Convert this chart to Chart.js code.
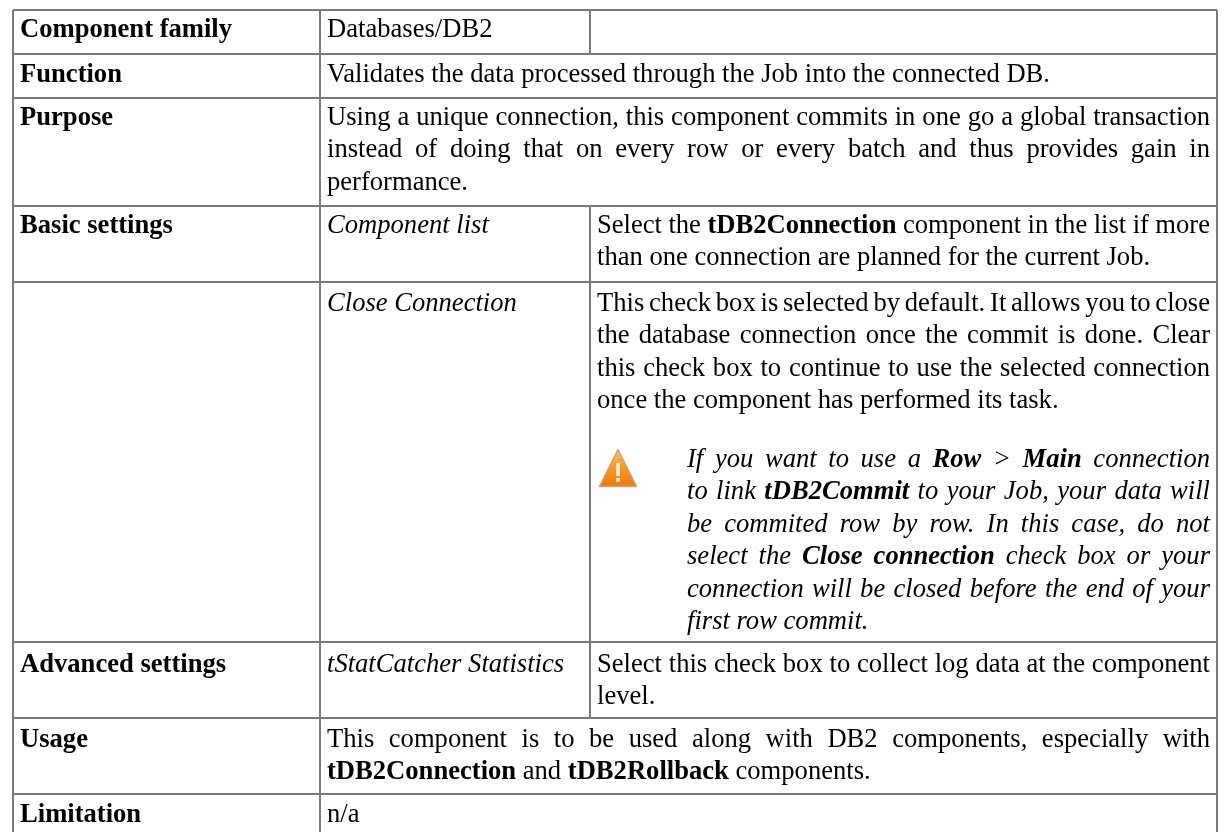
<!DOCTYPE html>
<html>
<head>
<meta charset="utf-8">
<title>tDB2Commit</title>
<script src="https://cdn.jsdelivr.net/npm/chart.js@4"></script>
<style>
html, body { margin: 0; padding: 0; background: #fff; }
canvas { display: block; }
</style>
</head>
<body>
<canvas id="sheet" width="1226" height="832"></canvas>
<script>
// table rules
const rowEdges = [10, 54, 98, 206, 282, 642, 718, 794, 832];
const colEdges = [13, 320, 590, 1217];
// first baseline below the top rule of each row
const rowBaselines = [27, 28, 27, 27, 29, 30, 29, 28];

// text of each cell: row, first column, lines (** = bold, trailing | = justified)
const headerCells = [
    [0, 0, ['Component family']],
    [1, 0, ['Function']],
    [2, 0, ['Purpose']],
    [3, 0, ['Basic settings']],
    [5, 0, ['Advanced settings']],
    [6, 0, ['Usage']],
    [7, 0, ['Limitation']]
];
const plainCells = [
    [0, 1, ['Databases/DB2']],
    [1, 1, ['Validates the data processed through the Job into the connected DB.']],
    [2, 1, ['Using a unique connection, this component commits in one go a global transaction|',
            'instead of doing that on every row or every batch and thus provides gain in|',
            'performance.']],
    [6, 1, ['This component is to be used along with DB2 components, especially with|',
            '**tDB2Connection** and **tDB2Rollback** components.']],
    [7, 1, ['n/a']],
    [3, 2, ['Select the **tDB2Connection** component in the list if more|',
            'than one connection are planned for the current Job.']],
    [4, 2, ['This check box is selected by default. It allows you to close|',
            'the database connection once the commit is done. Clear|',
            'this check box to continue to use the selected connection|',
            'once the component has performed its task.']],
    [5, 2, ['Select this check box to collect log data at the component|',
            'level.']]
];
const italicCells = [
    [3, 1, ['Component list']],
    [4, 1, ['Close Connection']],
    [5, 1, ['tStatCatcher Statistics']]
];
const warningLines = [
    'If you want to use a **Row** > **Main** connection|',
    'to link **tDB2Commit** to your Job, your data will|',
    'be commited row by row. In this case, do not|',
    'select the **Close connection** check box or your|',
    'connection will be closed before the end of your|',
    'first row commit.'
];

const FONT = '"Liberation Serif"';
const FONT_SIZE = 26.6;
const LINE_H = 32.4;
const RULE = '#7b7b7b';

function rule(x0, y0, x1, y1) {
    return {
        type: 'line',
        data: [{ x: x0, y: y0 }, { x: x1, y: y1 }],
        borderColor: RULE,
        borderWidth: 2,
        pointRadius: 0,
        fill: false
    };
}

const last = rowEdges[rowEdges.length - 1];
const rules = [];
rowEdges.slice(0, -1).forEach(y => rules.push(rule(colEdges[0], y, colEdges[3], y)));
rules.push(rule(colEdges[0], rowEdges[0], colEdges[0], last));
rules.push(rule(colEdges[1], rowEdges[0], colEdges[1], last));
rules.push(rule(colEdges[3], rowEdges[0], colEdges[3], last));
rules.push(rule(colEdges[2], rowEdges[0], colEdges[2], rowEdges[1]));
rules.push(rule(colEdges[2], rowEdges[3], colEdges[2], rowEdges[6]));

// warning sign, used as the point image of a one point dataset
function warningIcon() {
    const c = document.createElement('canvas');
    c.width = 40; c.height = 40;
    const g = c.getContext('2d');
    const grad = g.createLinearGradient(0, 0, 0, 40);
    grad.addColorStop(0, '#fcc46a');
    grad.addColorStop(0.55, '#f7941d');
    grad.addColorStop(1, '#ec7a05');
    g.filter = 'blur(0.6px)';
    g.fillStyle = grad;
    g.strokeStyle = '#c9a47a';
    g.lineWidth = 1.5;
    g.lineJoin = 'round';
    g.beginPath();
    g.moveTo(20, 1.5); g.lineTo(38.5, 38.5); g.lineTo(1.5, 38.5); g.closePath();
    g.fill(); g.stroke();
    g.fillStyle = '#fff3df';
    g.fillRect(18.2, 15, 3.6, 13);
    g.fillRect(18.2, 30, 3.6, 3.6);
    return c;
}

function drawLine(ctx, text, left, right, baseline, italic, baseBold) {
    const justify = text.endsWith('|');
    const clean = justify ? text.slice(0, -1) : text;
    const words = [];
    clean.split('**').forEach((part, i) => {
        part.split(' ').filter(Boolean).forEach(w => words.push({ w, bold: baseBold || i % 2 === 1 }));
    });
    const fontOf = bold => `${italic ? 'italic ' : ''}${bold ? 'bold ' : ''}${FONT_SIZE}px ${FONT}`;
    let total = 0;
    words.forEach(o => { ctx.font = fontOf(o.bold); o.width = ctx.measureText(o.w).width; total += o.width; });
    ctx.font = fontOf(false);
    let gap = ctx.measureText(' ').width;
    if (justify && words.length > 1) gap = (right - left - total) / (words.length - 1);
    let x = left;
    words.forEach(o => {
        ctx.font = fontOf(o.bold);
        ctx.fillText(o.w, x, baseline);
        x += o.width + gap;
    });
}

const cellText = {
    id: 'cellText',
    afterDatasetsDraw(chart) {
        const ctx = chart.ctx;
        const sx = chart.scales.x;
        const sy = chart.scales.y;
        ctx.save();
        ctx.fillStyle = '#000';
        ctx.textBaseline = 'alphabetic';
        ctx.textAlign = 'left';
        const rightEdge = sx.getPixelForValue(colEdges[3] - 7);
        const put = (cell, italic, bold) => {
            const left = sx.getPixelForValue(colEdges[cell[1]] + 7);
            const first = sy.getPixelForValue(rowEdges[cell[0]] + rowBaselines[cell[0]]);
            cell[2].forEach((t, i) => drawLine(ctx, t, left, rightEdge, first + i * LINE_H, italic, bold));
        };
        headerCells.forEach(c => put(c, false, true));
        plainCells.forEach(c => put(c, false, false));
        italicCells.forEach(c => put(c, true, false));
        warningLines.forEach((t, i) => {
            drawLine(ctx, t, sx.getPixelForValue(687), rightEdge, sy.getPixelForValue(467) + i * LINE_H, true, false);
        });
        ctx.restore();
    }
};

new Chart(document.getElementById('sheet'), {
    type: 'scatter',
    data: {
        datasets: rules.concat([{
            type: 'scatter',
            data: [{ x: 618, y: 468 }],
            pointStyle: warningIcon(),
            pointRadius: 20
        }])
    },
    options: {
        responsive: false,
        animation: false,
        layout: { padding: 0, autoPadding: false },
        plugins: { legend: { display: false }, title: { display: false }, tooltip: { enabled: false } },
        scales: {
            x: { type: 'linear', display: false, min: 0, max: 1226 },
            y: { type: 'linear', display: false, min: 0, max: 832, reverse: true }
        }
    },
    plugins: [cellText]
});
</script>
</body>
</html>
